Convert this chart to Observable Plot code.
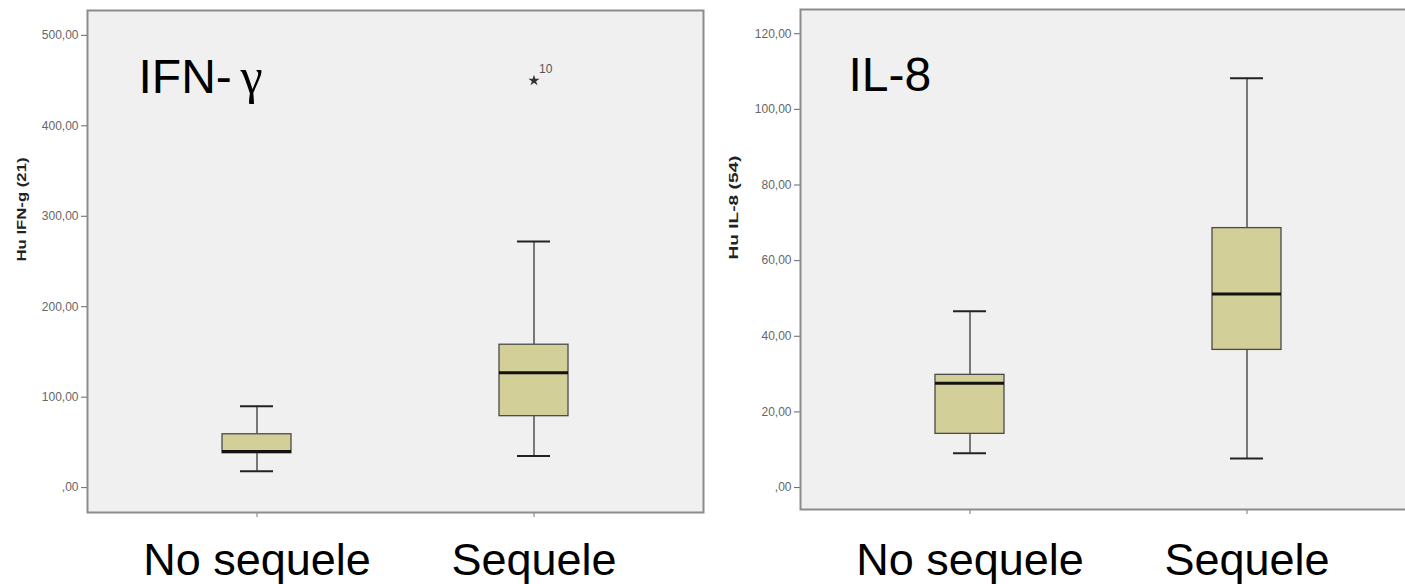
<!DOCTYPE html>
<html><head><meta charset="utf-8">
<script src="https://cdn.jsdelivr.net/npm/d3@7"></script>
<script src="https://cdn.jsdelivr.net/npm/@observablehq/plot@0.6"></script>
<style>
html,body{margin:0;padding:0;background:#fff;overflow:hidden;width:1405px;height:584px}
#wrap{display:flex;width:1416px;height:584px}
#wrap svg{flex:0 0 auto;max-width:none !important;display:block}
</style></head><body><div id="wrap"></div>
<script>
const groups = ["No sequele", "Sequele"];

// Panel 1: IFN-γ
const ifnTitle = "IFN-";
const ifnTitleGreek = "γ";
const ifnYLabel = "Hu IFN-g (21)";
const ifnWhiskerLow = [18, 35];
const ifnQ1 = [38, 79];
const ifnMedian = [40, 127];
const ifnQ3 = [59, 158];
const ifnWhiskerHigh = [90, 272];
const ifnOutlierGroup = ["Sequele"];
const ifnOutlierValue = [450];
const ifnOutlierLabel = ["10"];
const ifnTicks = [0, 100, 200, 300, 400, 500];
const ifnTickLabels = [",00", "100,00", "200,00", "300,00", "400,00", "500,00"];

// Panel 2: IL-8
const il8Title = "IL-8";
const il8YLabel = "Hu IL-8 (54)";
const il8WhiskerLow = [9.1, 7.7];
const il8Q1 = [14.2, 36.4];
const il8Median = [27.6, 51.2];
const il8Q3 = [29.8, 68.6];
const il8WhiskerHigh = [46.6, 108.2];
const il8Ticks = [0, 20, 40, 60, 80, 100, 120];
const il8TickLabels = [",00", "20,00", "40,00", "60,00", "80,00", "100,00", "120,00"];

const FONT = "'Liberation Sans', Arial, Helvetica, sans-serif";
const BOX_FILL = "#d3cf98";

function rowsOf(lo, q1, med, q3, hi) {
  return groups.map((g, i) => ({g, lo: lo[i], q1: q1[i], med: med[i], q3: q3[i], hi: hi[i]}));
}

function panel({width, marginLeft, marginRight, marginTop, marginBottom, domain, ticks, tickLabels, tickPadX, rows, outliers, title, titleGreek, titleDx, titleDy, yLabel, yLabelDx}) {
  const marks = [
    Plot.frame({fill: "#f0f0f0", stroke: "#8c8c8c", strokeWidth: 2}),
    Plot.ruleX(rows, {x: "g", y1: "lo", y2: "q1", stroke: "#444", strokeWidth: 1.4}),
    Plot.ruleX(rows, {x: "g", y1: "q3", y2: "hi", stroke: "#444", strokeWidth: 1.4}),
    Plot.tickY(rows, {x: "g", y: "lo", insetLeft: 18, insetRight: 18, stroke: "#222", strokeWidth: 2}),
    Plot.tickY(rows, {x: "g", y: "hi", insetLeft: 18, insetRight: 18, stroke: "#222", strokeWidth: 2}),
    Plot.barY(rows, {x: "g", y1: "q1", y2: "q3", fill: BOX_FILL, stroke: "#4a4a4a", strokeWidth: 1.3}),
    Plot.tickY(rows, {x: "g", y: "med", stroke: "#111", strokeWidth: 3}),
    Plot.text([title], {frameAnchor: "top-left", dx: titleDx, dy: titleDy, lineAnchor: "bottom", textAnchor: "start", fontSize: 48, fill: "#000", fontFamily: FONT}),
    Plot.text([yLabel], {frameAnchor: "left", dx: yLabelDx, rotate: -90, fontSize: 13, fontWeight: "bold", fill: "#222", fontFamily: FONT})
  ];
  if (titleGreek) {
    marks.push(Plot.text([titleGreek], {frameAnchor: "top-left", dx: titleDx + 102, dy: titleDy, lineAnchor: "bottom", textAnchor: "start", fontSize: 50, fill: "#000", fontFamily: "'Liberation Serif', 'DejaVu Serif', serif"}));
  }
  if (outliers) {
    marks.push(Plot.dot(outliers, {x: "g", y: "v", symbol: "star", r: 3.5, fill: "#333", stroke: "none"}));
    marks.push(Plot.text(outliers, {x: "g", y: "v", text: "label", dx: 5, dy: -11, textAnchor: "start", fontSize: 12, fill: "#555", fontFamily: FONT}));
  }
  const svg = Plot.plot({
    width, height: 584, marginLeft, marginRight, marginTop, marginBottom,
    style: {fontFamily: FONT, background: "transparent", overflow: "visible"},
    x: {type: "band", domain: groups, paddingInner: 0.75, paddingOuter: 0.485, tickSize: 5, tickPadding: tickPadX, label: null},
    y: {domain, ticks, tickFormat: d => tickLabels[ticks.indexOf(d)], tickSize: 6, tickPadding: 3, label: null},
    marks
  });
  const s = d3.select(svg);
  s.selectAll('g[aria-label^="x-axis"] text').attr("font-size", 45).attr("fill", "#000").style("font-size", "45px");
  s.selectAll('g[aria-label^="x-axis"]').attr("color", "#777");
  s.selectAll('g[aria-label^="y-axis"]').attr("color", "#666");
  s.selectAll('g[aria-label^="y-axis"] text').attr("font-size", 12).style("font-size", "12px").attr("fill", "#666");
  s.selectAll("text").filter(function () { return this.textContent === yLabel; })
    .attr("textLength", 104).attr("lengthAdjust", "spacingAndGlyphs");
  return svg;
}

const wrap = document.getElementById("wrap");
wrap.appendChild(panel({
  width: 705, marginLeft: 87, marginRight: 2, marginTop: 10, marginBottom: 72,
  domain: [-27.5, 527.5], ticks: ifnTicks, tickLabels: ifnTickLabels, tickPadX: 26,
  rows: rowsOf(ifnWhiskerLow, ifnQ1, ifnMedian, ifnQ3, ifnWhiskerHigh),
  outliers: ifnOutlierGroup.map((g, i) => ({g, v: ifnOutlierValue[i], label: ifnOutlierLabel[i]})),
  title: ifnTitle, titleGreek: ifnTitleGreek, titleDx: 51, titleDy: 82,
  yLabel: ifnYLabel, yLabelDx: -66
}));
wrap.appendChild(panel({
  width: 711, marginLeft: 95, marginRight: 0, marginTop: 9, marginBottom: 75,
  domain: [-5.8, 126.4], ticks: il8Ticks, tickLabels: il8TickLabels, tickPadX: 29,
  rows: rowsOf(il8WhiskerLow, il8Q1, il8Median, il8Q3, il8WhiskerHigh),
  outliers: null,
  title: il8Title, titleGreek: null, titleDx: 48, titleDy: 81,
  yLabel: il8YLabel, yLabelDx: -67
}));
</script></body></html>
